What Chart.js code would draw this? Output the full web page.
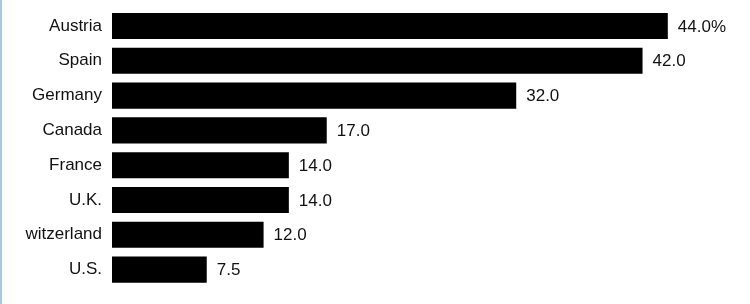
<!DOCTYPE html>
<html>
<head>
<meta charset="utf-8">
<script src="https://cdn.jsdelivr.net/npm/chart.js@4"></script>
<style>
    html, body { margin: 0; padding: 0; background: #fff; }
    body { width: 750px; height: 304px; position: relative; overflow: hidden; }
    .edge { position: absolute; left: 0; top: 0; width: 2px; height: 304px; background: #a9c8d9; }
    .shade { position: absolute; left: 2px; top: 0; width: 12px; height: 304px; background: #fdfdfa; }
    .wrap { position: absolute; left: 25px; top: 0; width: 725px; height: 304px; }
</style>
</head>
<body>
<div class="edge"></div>
<div class="shade"></div>
<div class="wrap"><canvas id="chart" width="725" height="304"></canvas></div>
<script>
// Country shares
const countries = ['Austria', 'Spain', 'Germany', 'Canada', 'France', 'U.K.', 'Switzerland', 'U.S.'];
const shares = [44.0, 42.0, 32.0, 17.0, 14.0, 14.0, 12.0, 7.5];

const FONT = '"Liberation Sans", Arial, Helvetica, sans-serif';

// value labels at the end of each bar
const valueLabels = {
    id: 'valueLabels',
    afterDatasetsDraw(chart) {
        const ctx = chart.ctx;
        const meta = chart.getDatasetMeta(0);
        ctx.save();
        ctx.font = '17px ' + FONT;
        ctx.fillStyle = '#111';
        ctx.textAlign = 'left';
        ctx.textBaseline = 'middle';
        meta.data.forEach((bar, i) => {
            const txt = shares[i].toFixed(1) + (i === 0 ? '%' : '');
            ctx.fillText(txt, bar.x + 10, bar.y + 1);
        });
        ctx.restore();
    }
};

new Chart(document.getElementById('chart'), {
    type: 'bar',
    data: {
        labels: countries,
        datasets: [{
            data: shares,
            backgroundColor: '#000',
            borderWidth: 0,
            categoryPercentage: 1,
            barPercentage: 0.75
        }]
    },
    options: {
        indexAxis: 'y',
        responsive: false,
        animation: false,
        devicePixelRatio: 1,
        layout: { padding: { top: 8.6, bottom: 17, left: 0, right: 6.4 } },
        scales: {
            x: { display: false, min: 0, max: 50 },
            y: {
                grid: { display: false, drawTicks: false },
                border: { display: false },
                ticks: { color: '#111', font: { family: FONT, size: 17 }, padding: 10 },
                afterFit(scale) {
                    scale.width = 87;
                    scale.paddingTop = 0;
                    scale.paddingBottom = 0;
                }
            }
        },
        plugins: { legend: { display: false }, tooltip: { enabled: false } }
    },
    plugins: [valueLabels]
});
</script>
</body>
</html>
